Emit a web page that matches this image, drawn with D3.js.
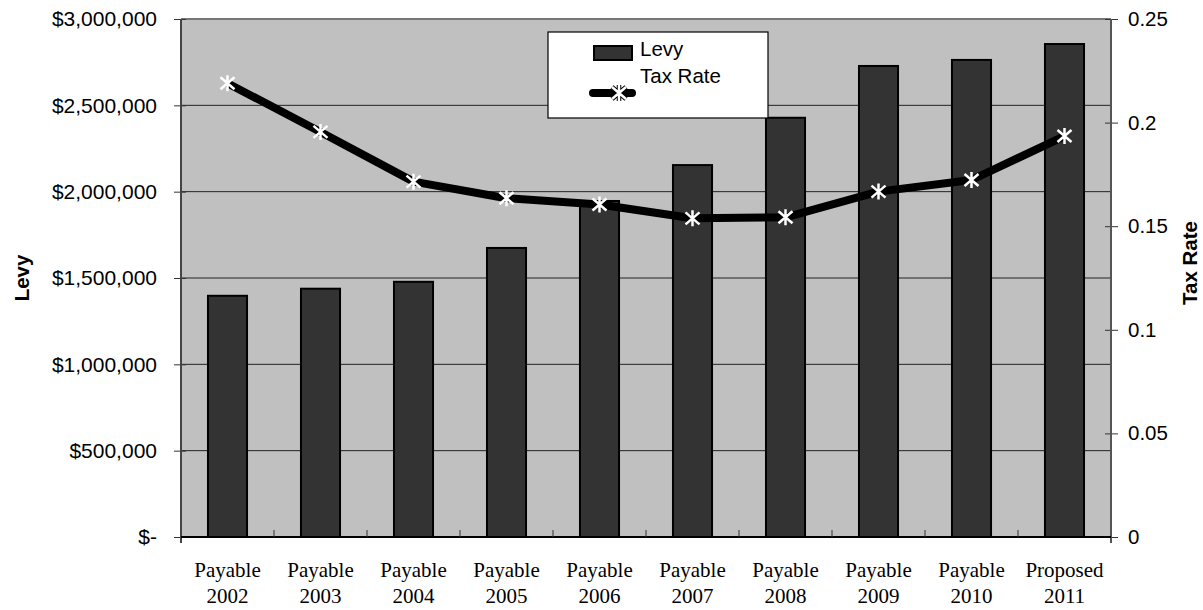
<!DOCTYPE html>
<html>
<head>
<meta charset="utf-8">
<script src="https://cdn.jsdelivr.net/npm/d3@7"></script>
<style>
  body { margin: 0; background: #fff; }
</style>
</head>
<body>
<div id="chart"></div>
<script>
var categories = ["Payable 2002", "Payable 2003", "Payable 2004", "Payable 2005", "Payable 2006",
  "Payable 2007", "Payable 2008", "Payable 2009", "Payable 2010", "Proposed 2011"];
var levy = [1397000, 1438000, 1478000, 1674000, 1946000, 2154000, 2428000, 2728000, 2763000, 2855000];
var taxRate = [0.219, 0.1955, 0.1715, 0.1635, 0.1605, 0.1538, 0.1543, 0.1667, 0.1723, 0.1935];
var levyTicks = [0, 500000, 1000000, 1500000, 2000000, 2500000, 3000000];
var rateTicks = [0, 0.05, 0.1, 0.15, 0.2, 0.25];

var svgWidth = 1203;
var svgHeight = 610;
var plotLeft = 181, plotRight = 1111, plotTop = 19, plotBottom = 537;
var sans = "Liberation Sans, Arial, sans-serif";
var serif = "Liberation Serif, Times New Roman, serif";

var svg = d3.select("#chart")
  .append("svg")
  .attr("width", svgWidth)
  .attr("height", svgHeight)
  .attr("font-family", sans);

var x = d3.scaleBand()
  .domain(categories)
  .range([plotLeft, plotRight])
  .paddingInner(0.58)
  .paddingOuter(0.29);
var xEdge = d3.scaleLinear().domain([0, categories.length]).range([plotLeft, plotRight]);
var yLevy = d3.scaleLinear().domain([0, 3000000]).range([plotBottom, plotTop]);
var yRate = d3.scaleLinear().domain([0, 0.25]).range([plotBottom, plotTop]);

// plot background
svg.append("rect")
  .attr("x", plotLeft).attr("y", plotTop)
  .attr("width", plotRight - plotLeft).attr("height", plotBottom - plotTop)
  .attr("fill", "#c0c0c0");

// gridlines
svg.append("g").selectAll("line")
  .data(levyTicks.slice(1, -1))
  .enter().append("line")
  .attr("x1", plotLeft).attr("x2", plotRight)
  .attr("y1", d => yLevy(d)).attr("y2", d => yLevy(d))
  .attr("stroke", "#222").attr("stroke-width", 1);
svg.append("line")
  .attr("x1", plotLeft).attr("x2", plotRight)
  .attr("y1", plotTop).attr("y2", plotTop)
  .attr("stroke", "#777").attr("stroke-width", 2);

// bars
svg.append("g").selectAll("rect")
  .data(levy)
  .enter().append("rect")
  .attr("x", (d, i) => x(categories[i]))
  .attr("y", d => yLevy(d))
  .attr("width", x.bandwidth())
  .attr("height", d => plotBottom - yLevy(d))
  .attr("fill", "#333333")
  .attr("stroke", "#000")
  .attr("stroke-width", 2);

// left axis
var leftAxis = d3.axisLeft(yLevy)
  .tickValues(levyTicks)
  .tickSize(7)
  .tickPadding(17)
  .tickFormat(d => d === 0 ? "$-" : d3.format("$,")(d));
var gl = svg.append("g")
  .attr("transform", `translate(${plotLeft},0)`)
  .call(leftAxis);
gl.select(".domain").remove();
gl.selectAll(".tick line").attr("x1", 5).attr("stroke", "#333");
gl.selectAll(".tick text").attr("font-size", 21).attr("font-family", sans).attr("fill", "#000");
svg.append("line")
  .attr("x1", plotLeft).attr("x2", plotLeft)
  .attr("y1", plotTop).attr("y2", plotBottom + 6)
  .attr("stroke", "#444").attr("stroke-width", 2);

// right axis
var rightAxis = d3.axisRight(yRate)
  .tickValues(rateTicks)
  .tickSize(7)
  .tickPadding(10)
  .tickFormat(d => d === 0 ? "0" : String(d));
var gr = svg.append("g")
  .attr("transform", `translate(${plotRight},0)`)
  .call(rightAxis);
gr.select(".domain").remove();
gr.selectAll(".tick line").attr("x1", -6).attr("stroke", "#333");
gr.selectAll(".tick text").attr("font-size", 20.5).attr("font-family", sans).attr("fill", "#000");
svg.append("line")
  .attr("x1", plotRight).attr("x2", plotRight)
  .attr("y1", plotTop).attr("y2", plotBottom + 6)
  .attr("stroke", "#555").attr("stroke-width", 2);

// bottom axis
svg.append("line")
  .attr("x1", plotLeft).attr("x2", plotRight)
  .attr("y1", plotBottom).attr("y2", plotBottom)
  .attr("stroke", "#000").attr("stroke-width", 2);
svg.append("g").selectAll("line")
  .data(d3.range(1, categories.length))
  .enter().append("line")
  .attr("x1", d => xEdge(d)).attr("x2", d => xEdge(d))
  .attr("y1", plotBottom - 7).attr("y2", plotBottom)
  .attr("stroke", "#333").attr("stroke-width", 1);

var xl = svg.append("g").selectAll("text")
  .data(categories)
  .enter().append("text")
  .attr("text-anchor", "middle")
  .attr("font-family", serif)
  .attr("font-size", 21)
  .attr("x", d => x(d) + x.bandwidth() / 2)
  .attr("y", 577);
xl.append("tspan").text(d => d.split(" ")[0]);
xl.append("tspan").attr("x", d => x(d) + x.bandwidth() / 2).attr("dy", 26).text(d => d.split(" ")[1]);

// tax rate line
var line = d3.line()
  .x((d, i) => x(categories[i]) + x.bandwidth() / 2)
  .y(d => yRate(d));
svg.append("path")
  .datum(taxRate)
  .attr("d", line)
  .attr("fill", "none")
  .attr("stroke", "#000")
  .attr("stroke-width", 8)
  .attr("stroke-linejoin", "round");

var star = "M0,-8V8M-7,-6L7,6M-7,6L7,-6";
svg.append("g").selectAll("path")
  .data(taxRate)
  .enter().append("path")
  .attr("transform", (d, i) => `translate(${x(categories[i]) + x.bandwidth() / 2},${yRate(d)})`)
  .attr("d", star)
  .attr("stroke", "#fff")
  .attr("stroke-width", 2.5)
  .attr("fill", "none");

// legend
var lg = svg.append("g");
lg.append("rect")
  .attr("x", 548).attr("y", 32).attr("width", 220).attr("height", 86)
  .attr("fill", "#fff").attr("stroke", "#000").attr("stroke-width", 1.2);
lg.append("rect")
  .attr("x", 594).attr("y", 46).attr("width", 38).attr("height", 14)
  .attr("fill", "#333333").attr("stroke", "#000").attr("stroke-width", 2);
lg.append("text").attr("x", 640).attr("y", 56).attr("font-size", 20.5).text("Levy");
lg.append("text").attr("x", 640).attr("y", 83).attr("font-size", 20.5).text("Tax Rate");
lg.append("line")
  .attr("x1", 593).attr("x2", 632).attr("y1", 93).attr("y2", 93)
  .attr("stroke", "#000").attr("stroke-width", 8).attr("stroke-linecap", "round");
lg.append("path")
  .attr("transform", "translate(619,93)")
  .attr("d", star)
  .attr("stroke", "#000").attr("stroke-width", 4.5).attr("fill", "none");
lg.append("path")
  .attr("transform", "translate(619,93)")
  .attr("d", star)
  .attr("stroke", "#fff").attr("stroke-width", 2.5).attr("fill", "none");

// axis titles
svg.append("text")
  .attr("transform", "translate(29,278) rotate(-90)")
  .attr("text-anchor", "middle")
  .attr("font-size", 20.5).attr("font-weight", "bold")
  .text("Levy");
svg.append("text")
  .attr("transform", "translate(1197,263) rotate(-90)")
  .attr("text-anchor", "middle")
  .attr("font-size", 20.5).attr("font-weight", "bold")
  .text("Tax Rate");
</script>
</body>
</html>
